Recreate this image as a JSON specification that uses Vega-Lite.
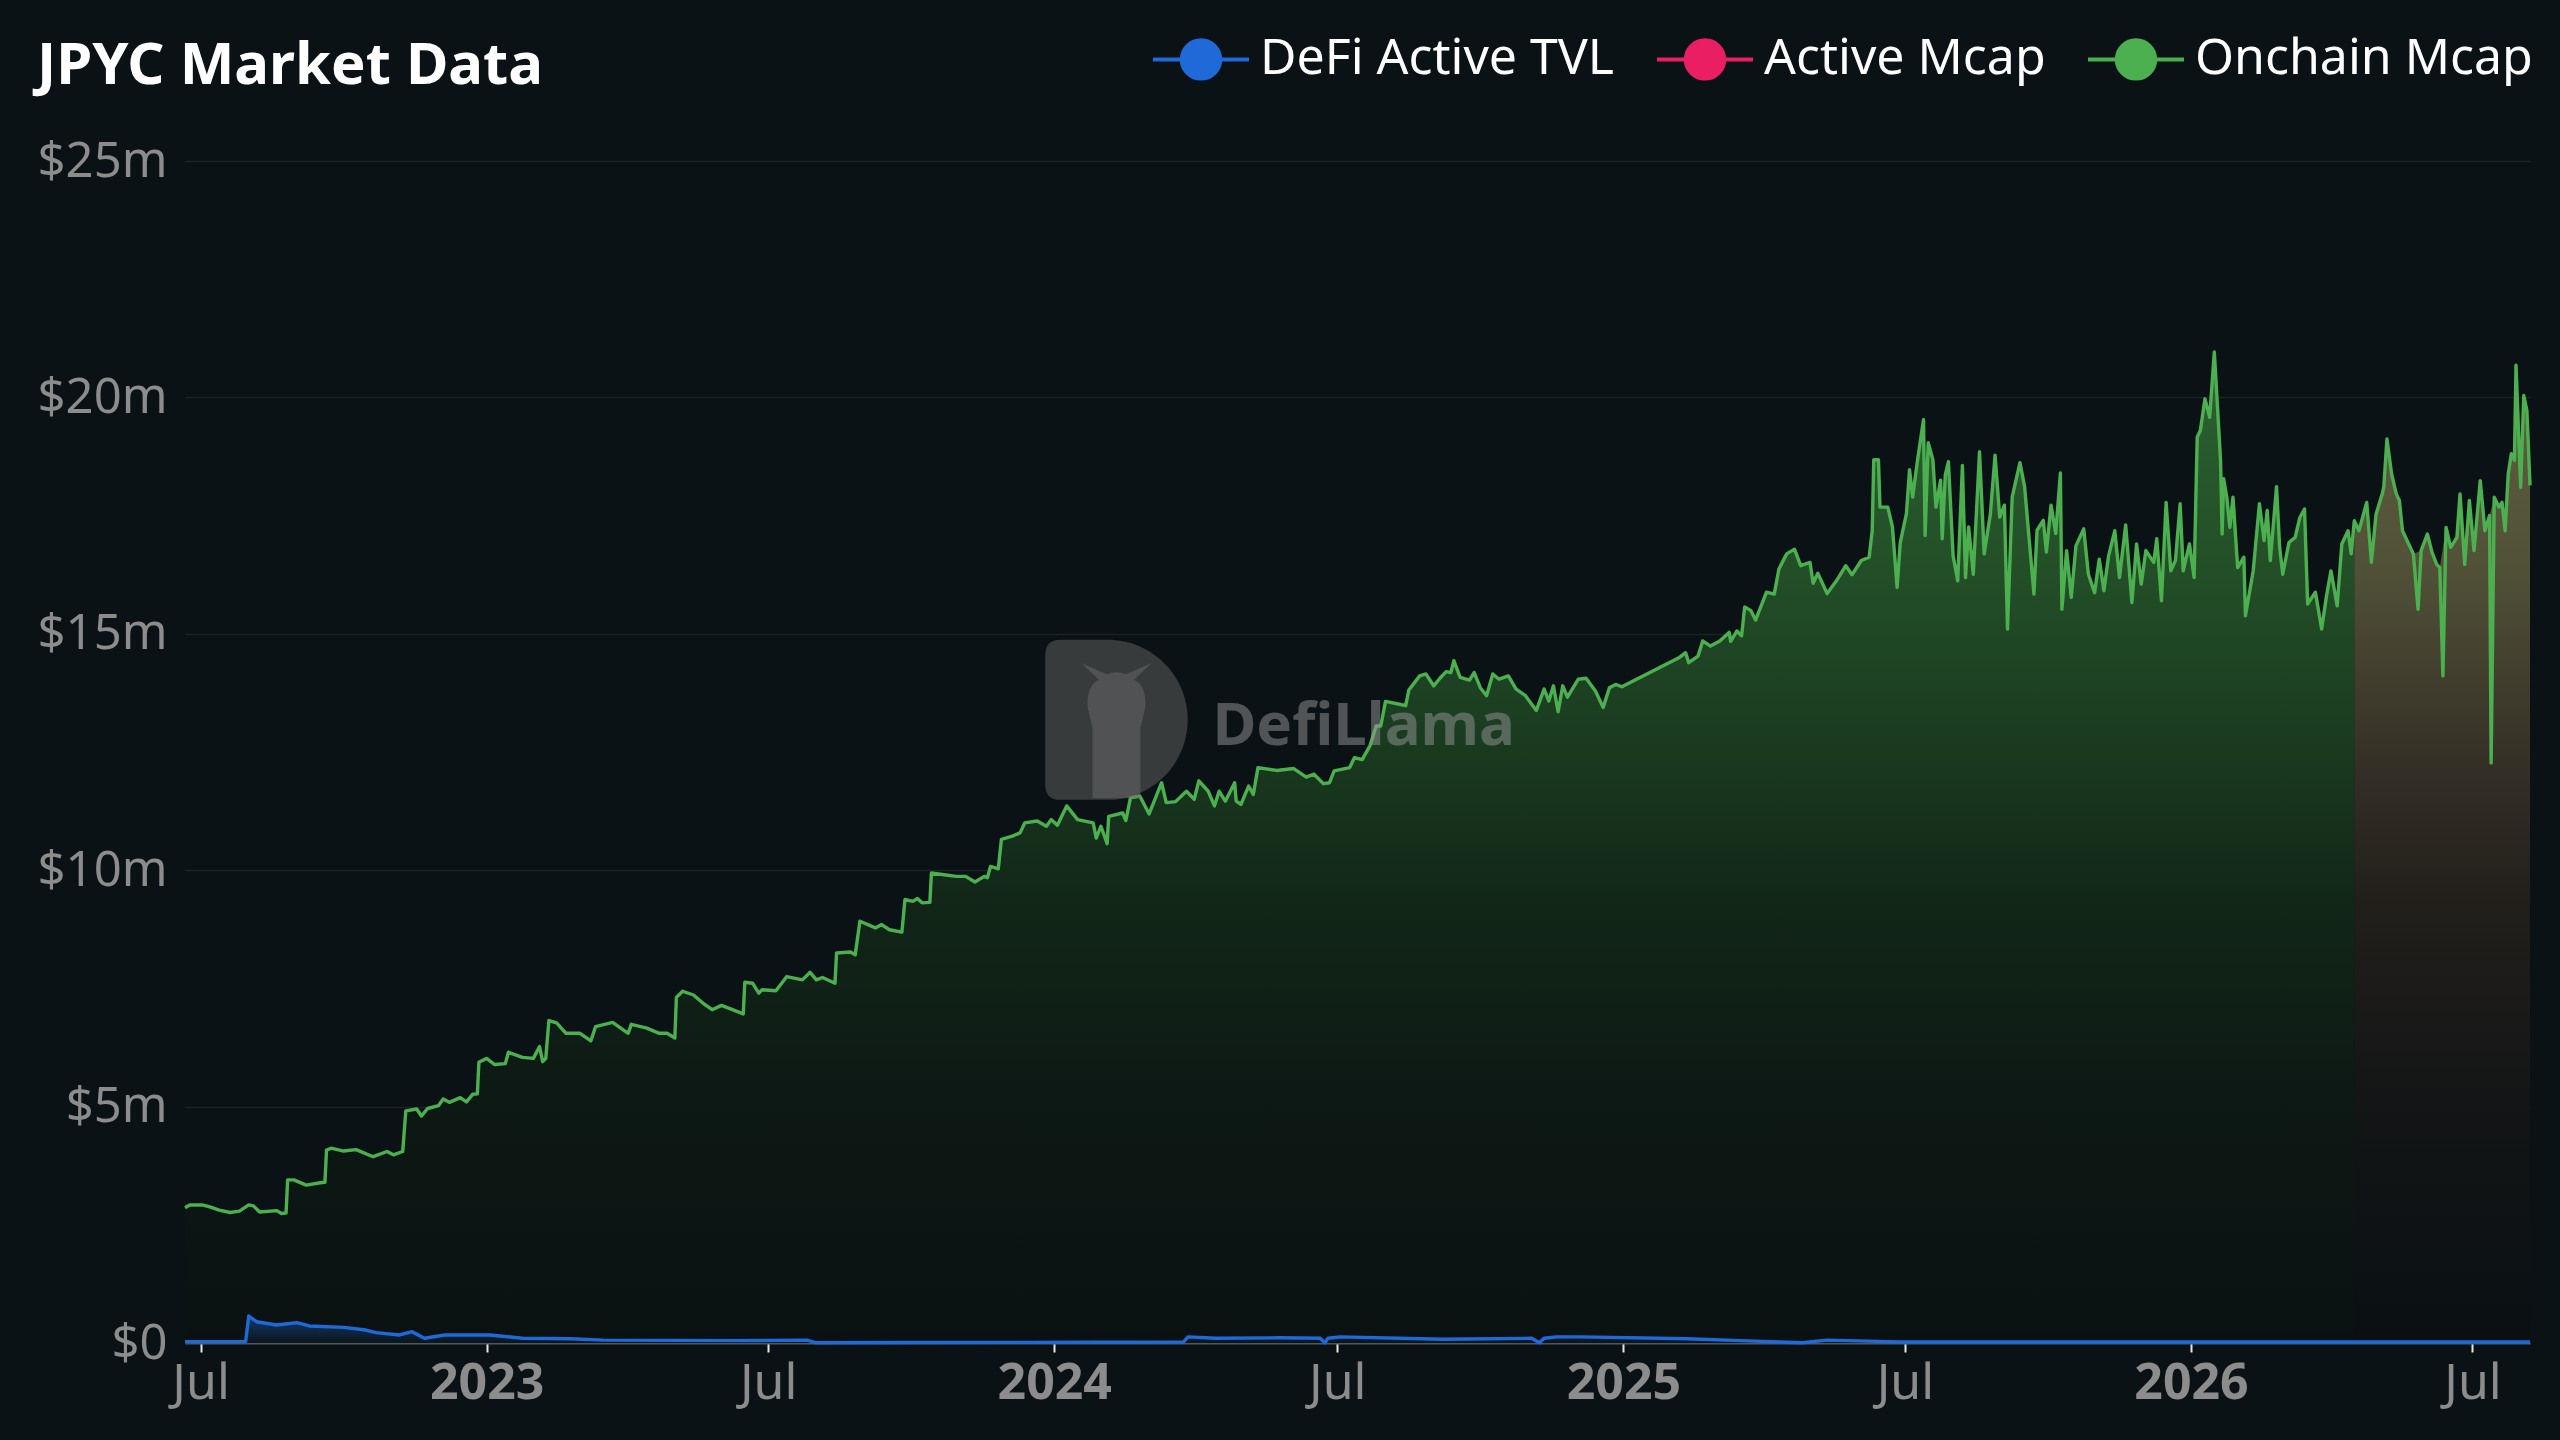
{
  "$schema": "https://vega.github.io/schema/vega-lite/v6.json",
  "width": 2345,
  "height": 1182,
  "autosize": "none",
  "padding": {"left": 185, "top": 161, "right": 30, "bottom": 97},
  "background": "#0b1215",
  "config": {"view": {"stroke": null}},
  "title": {
    "text": "JPYC Market Data",
    "anchor": "start",
    "frame": "group",
    "font": "Noto Sans",
    "fontSize": 58,
    "fontWeight": "bold",
    "color": "#ffffff",
    "baseline": "alphabetic",
    "dx": -148,
    "offset": -133
  },
  "datasets": {
    "market": [
      {"date": "2022-06-21", "series": "Onchain Mcap", "usd": 2860000},
      {"date": "2022-06-24", "series": "Onchain Mcap", "usd": 2920000},
      {"date": "2022-07-02", "series": "Onchain Mcap", "usd": 2920000},
      {"date": "2022-07-07", "series": "Onchain Mcap", "usd": 2880000},
      {"date": "2022-07-13", "series": "Onchain Mcap", "usd": 2810000},
      {"date": "2022-07-20", "series": "Onchain Mcap", "usd": 2760000},
      {"date": "2022-07-26", "series": "Onchain Mcap", "usd": 2790000},
      {"date": "2022-08-01", "series": "Onchain Mcap", "usd": 2920000},
      {"date": "2022-08-04", "series": "Onchain Mcap", "usd": 2900000},
      {"date": "2022-08-08", "series": "Onchain Mcap", "usd": 2770000},
      {"date": "2022-08-19", "series": "Onchain Mcap", "usd": 2800000},
      {"date": "2022-08-22", "series": "Onchain Mcap", "usd": 2740000},
      {"date": "2022-08-25", "series": "Onchain Mcap", "usd": 2750000},
      {"date": "2022-08-26", "series": "Onchain Mcap", "usd": 3450000},
      {"date": "2022-08-30", "series": "Onchain Mcap", "usd": 3450000},
      {"date": "2022-09-07", "series": "Onchain Mcap", "usd": 3340000},
      {"date": "2022-09-16", "series": "Onchain Mcap", "usd": 3390000},
      {"date": "2022-09-19", "series": "Onchain Mcap", "usd": 3400000},
      {"date": "2022-09-20", "series": "Onchain Mcap", "usd": 4080000},
      {"date": "2022-09-23", "series": "Onchain Mcap", "usd": 4120000},
      {"date": "2022-10-01", "series": "Onchain Mcap", "usd": 4060000},
      {"date": "2022-10-09", "series": "Onchain Mcap", "usd": 4090000},
      {"date": "2022-10-20", "series": "Onchain Mcap", "usd": 3940000},
      {"date": "2022-10-29", "series": "Onchain Mcap", "usd": 4050000},
      {"date": "2022-11-02", "series": "Onchain Mcap", "usd": 3980000},
      {"date": "2022-11-08", "series": "Onchain Mcap", "usd": 4050000},
      {"date": "2022-11-10", "series": "Onchain Mcap", "usd": 4910000},
      {"date": "2022-11-17", "series": "Onchain Mcap", "usd": 4950000},
      {"date": "2022-11-20", "series": "Onchain Mcap", "usd": 4800000},
      {"date": "2022-11-24", "series": "Onchain Mcap", "usd": 4960000},
      {"date": "2022-12-01", "series": "Onchain Mcap", "usd": 5020000},
      {"date": "2022-12-04", "series": "Onchain Mcap", "usd": 5160000},
      {"date": "2022-12-08", "series": "Onchain Mcap", "usd": 5090000},
      {"date": "2022-12-15", "series": "Onchain Mcap", "usd": 5190000},
      {"date": "2022-12-19", "series": "Onchain Mcap", "usd": 5100000},
      {"date": "2022-12-23", "series": "Onchain Mcap", "usd": 5260000},
      {"date": "2022-12-26", "series": "Onchain Mcap", "usd": 5270000},
      {"date": "2022-12-27", "series": "Onchain Mcap", "usd": 5940000},
      {"date": "2023-01-01", "series": "Onchain Mcap", "usd": 6020000},
      {"date": "2023-01-06", "series": "Onchain Mcap", "usd": 5890000},
      {"date": "2023-01-13", "series": "Onchain Mcap", "usd": 5910000},
      {"date": "2023-01-15", "series": "Onchain Mcap", "usd": 6150000},
      {"date": "2023-01-24", "series": "Onchain Mcap", "usd": 6040000},
      {"date": "2023-01-31", "series": "Onchain Mcap", "usd": 6020000},
      {"date": "2023-02-04", "series": "Onchain Mcap", "usd": 6270000},
      {"date": "2023-02-06", "series": "Onchain Mcap", "usd": 5950000},
      {"date": "2023-02-08", "series": "Onchain Mcap", "usd": 6020000},
      {"date": "2023-02-10", "series": "Onchain Mcap", "usd": 6820000},
      {"date": "2023-02-15", "series": "Onchain Mcap", "usd": 6770000},
      {"date": "2023-02-21", "series": "Onchain Mcap", "usd": 6550000},
      {"date": "2023-03-02", "series": "Onchain Mcap", "usd": 6550000},
      {"date": "2023-03-09", "series": "Onchain Mcap", "usd": 6390000},
      {"date": "2023-03-12", "series": "Onchain Mcap", "usd": 6690000},
      {"date": "2023-03-23", "series": "Onchain Mcap", "usd": 6780000},
      {"date": "2023-04-02", "series": "Onchain Mcap", "usd": 6550000},
      {"date": "2023-04-04", "series": "Onchain Mcap", "usd": 6740000},
      {"date": "2023-04-14", "series": "Onchain Mcap", "usd": 6660000},
      {"date": "2023-04-22", "series": "Onchain Mcap", "usd": 6550000},
      {"date": "2023-04-27", "series": "Onchain Mcap", "usd": 6550000},
      {"date": "2023-05-02", "series": "Onchain Mcap", "usd": 6450000},
      {"date": "2023-05-03", "series": "Onchain Mcap", "usd": 7310000},
      {"date": "2023-05-07", "series": "Onchain Mcap", "usd": 7440000},
      {"date": "2023-05-14", "series": "Onchain Mcap", "usd": 7360000},
      {"date": "2023-05-20", "series": "Onchain Mcap", "usd": 7190000},
      {"date": "2023-05-26", "series": "Onchain Mcap", "usd": 7050000},
      {"date": "2023-06-01", "series": "Onchain Mcap", "usd": 7140000},
      {"date": "2023-06-08", "series": "Onchain Mcap", "usd": 7050000},
      {"date": "2023-06-15", "series": "Onchain Mcap", "usd": 6960000},
      {"date": "2023-06-16", "series": "Onchain Mcap", "usd": 7630000},
      {"date": "2023-06-21", "series": "Onchain Mcap", "usd": 7610000},
      {"date": "2023-06-25", "series": "Onchain Mcap", "usd": 7400000},
      {"date": "2023-06-27", "series": "Onchain Mcap", "usd": 7470000},
      {"date": "2023-07-06", "series": "Onchain Mcap", "usd": 7450000},
      {"date": "2023-07-13", "series": "Onchain Mcap", "usd": 7750000},
      {"date": "2023-07-23", "series": "Onchain Mcap", "usd": 7680000},
      {"date": "2023-07-28", "series": "Onchain Mcap", "usd": 7840000},
      {"date": "2023-08-01", "series": "Onchain Mcap", "usd": 7680000},
      {"date": "2023-08-05", "series": "Onchain Mcap", "usd": 7730000},
      {"date": "2023-08-13", "series": "Onchain Mcap", "usd": 7610000},
      {"date": "2023-08-14", "series": "Onchain Mcap", "usd": 8250000},
      {"date": "2023-08-23", "series": "Onchain Mcap", "usd": 8270000},
      {"date": "2023-08-26", "series": "Onchain Mcap", "usd": 8210000},
      {"date": "2023-08-29", "series": "Onchain Mcap", "usd": 8920000},
      {"date": "2023-09-08", "series": "Onchain Mcap", "usd": 8780000},
      {"date": "2023-09-12", "series": "Onchain Mcap", "usd": 8850000},
      {"date": "2023-09-17", "series": "Onchain Mcap", "usd": 8740000},
      {"date": "2023-09-25", "series": "Onchain Mcap", "usd": 8690000},
      {"date": "2023-09-27", "series": "Onchain Mcap", "usd": 9380000},
      {"date": "2023-10-02", "series": "Onchain Mcap", "usd": 9340000},
      {"date": "2023-10-05", "series": "Onchain Mcap", "usd": 9400000},
      {"date": "2023-10-08", "series": "Onchain Mcap", "usd": 9310000},
      {"date": "2023-10-13", "series": "Onchain Mcap", "usd": 9320000},
      {"date": "2023-10-14", "series": "Onchain Mcap", "usd": 9940000},
      {"date": "2023-10-21", "series": "Onchain Mcap", "usd": 9910000},
      {"date": "2023-10-30", "series": "Onchain Mcap", "usd": 9870000},
      {"date": "2023-11-05", "series": "Onchain Mcap", "usd": 9870000},
      {"date": "2023-11-11", "series": "Onchain Mcap", "usd": 9750000},
      {"date": "2023-11-17", "series": "Onchain Mcap", "usd": 9870000},
      {"date": "2023-11-19", "series": "Onchain Mcap", "usd": 9840000},
      {"date": "2023-11-21", "series": "Onchain Mcap", "usd": 10080000},
      {"date": "2023-11-26", "series": "Onchain Mcap", "usd": 10030000},
      {"date": "2023-11-28", "series": "Onchain Mcap", "usd": 10650000},
      {"date": "2023-12-05", "series": "Onchain Mcap", "usd": 10720000},
      {"date": "2023-12-10", "series": "Onchain Mcap", "usd": 10790000},
      {"date": "2023-12-13", "series": "Onchain Mcap", "usd": 11000000},
      {"date": "2023-12-21", "series": "Onchain Mcap", "usd": 11040000},
      {"date": "2023-12-27", "series": "Onchain Mcap", "usd": 10930000},
      {"date": "2023-12-30", "series": "Onchain Mcap", "usd": 11070000},
      {"date": "2024-01-03", "series": "Onchain Mcap", "usd": 10950000},
      {"date": "2024-01-09", "series": "Onchain Mcap", "usd": 11360000},
      {"date": "2024-01-16", "series": "Onchain Mcap", "usd": 11070000},
      {"date": "2024-01-26", "series": "Onchain Mcap", "usd": 11000000},
      {"date": "2024-01-28", "series": "Onchain Mcap", "usd": 10680000},
      {"date": "2024-01-31", "series": "Onchain Mcap", "usd": 10930000},
      {"date": "2024-02-04", "series": "Onchain Mcap", "usd": 10560000},
      {"date": "2024-02-05", "series": "Onchain Mcap", "usd": 11140000},
      {"date": "2024-02-14", "series": "Onchain Mcap", "usd": 11210000},
      {"date": "2024-02-16", "series": "Onchain Mcap", "usd": 11050000},
      {"date": "2024-02-19", "series": "Onchain Mcap", "usd": 11530000},
      {"date": "2024-02-25", "series": "Onchain Mcap", "usd": 11570000},
      {"date": "2024-03-02", "series": "Onchain Mcap", "usd": 11190000},
      {"date": "2024-03-10", "series": "Onchain Mcap", "usd": 11850000},
      {"date": "2024-03-13", "series": "Onchain Mcap", "usd": 11430000},
      {"date": "2024-03-19", "series": "Onchain Mcap", "usd": 11450000},
      {"date": "2024-03-26", "series": "Onchain Mcap", "usd": 11670000},
      {"date": "2024-03-31", "series": "Onchain Mcap", "usd": 11500000},
      {"date": "2024-04-03", "series": "Onchain Mcap", "usd": 11890000},
      {"date": "2024-04-09", "series": "Onchain Mcap", "usd": 11670000},
      {"date": "2024-04-13", "series": "Onchain Mcap", "usd": 11360000},
      {"date": "2024-04-16", "series": "Onchain Mcap", "usd": 11670000},
      {"date": "2024-04-20", "series": "Onchain Mcap", "usd": 11460000},
      {"date": "2024-04-26", "series": "Onchain Mcap", "usd": 11850000},
      {"date": "2024-04-27", "series": "Onchain Mcap", "usd": 11460000},
      {"date": "2024-04-30", "series": "Onchain Mcap", "usd": 11390000},
      {"date": "2024-05-05", "series": "Onchain Mcap", "usd": 11780000},
      {"date": "2024-05-08", "series": "Onchain Mcap", "usd": 11600000},
      {"date": "2024-05-11", "series": "Onchain Mcap", "usd": 12170000},
      {"date": "2024-05-23", "series": "Onchain Mcap", "usd": 12110000},
      {"date": "2024-06-03", "series": "Onchain Mcap", "usd": 12150000},
      {"date": "2024-06-11", "series": "Onchain Mcap", "usd": 11970000},
      {"date": "2024-06-16", "series": "Onchain Mcap", "usd": 12030000},
      {"date": "2024-06-22", "series": "Onchain Mcap", "usd": 11830000},
      {"date": "2024-06-26", "series": "Onchain Mcap", "usd": 11850000},
      {"date": "2024-06-29", "series": "Onchain Mcap", "usd": 12100000},
      {"date": "2024-07-09", "series": "Onchain Mcap", "usd": 12170000},
      {"date": "2024-07-12", "series": "Onchain Mcap", "usd": 12380000},
      {"date": "2024-07-17", "series": "Onchain Mcap", "usd": 12340000},
      {"date": "2024-07-22", "series": "Onchain Mcap", "usd": 12630000},
      {"date": "2024-07-26", "series": "Onchain Mcap", "usd": 13050000},
      {"date": "2024-07-29", "series": "Onchain Mcap", "usd": 13050000},
      {"date": "2024-08-01", "series": "Onchain Mcap", "usd": 13570000},
      {"date": "2024-08-10", "series": "Onchain Mcap", "usd": 13510000},
      {"date": "2024-08-14", "series": "Onchain Mcap", "usd": 13480000},
      {"date": "2024-08-16", "series": "Onchain Mcap", "usd": 13810000},
      {"date": "2024-08-23", "series": "Onchain Mcap", "usd": 14110000},
      {"date": "2024-08-27", "series": "Onchain Mcap", "usd": 14150000},
      {"date": "2024-09-01", "series": "Onchain Mcap", "usd": 13900000},
      {"date": "2024-09-05", "series": "Onchain Mcap", "usd": 14060000},
      {"date": "2024-09-09", "series": "Onchain Mcap", "usd": 14200000},
      {"date": "2024-09-12", "series": "Onchain Mcap", "usd": 14180000},
      {"date": "2024-09-14", "series": "Onchain Mcap", "usd": 14430000},
      {"date": "2024-09-18", "series": "Onchain Mcap", "usd": 14080000},
      {"date": "2024-09-24", "series": "Onchain Mcap", "usd": 14020000},
      {"date": "2024-09-27", "series": "Onchain Mcap", "usd": 14180000},
      {"date": "2024-10-01", "series": "Onchain Mcap", "usd": 13860000},
      {"date": "2024-10-05", "series": "Onchain Mcap", "usd": 13690000},
      {"date": "2024-10-09", "series": "Onchain Mcap", "usd": 14150000},
      {"date": "2024-10-13", "series": "Onchain Mcap", "usd": 14040000},
      {"date": "2024-10-19", "series": "Onchain Mcap", "usd": 14110000},
      {"date": "2024-10-24", "series": "Onchain Mcap", "usd": 13830000},
      {"date": "2024-10-30", "series": "Onchain Mcap", "usd": 13690000},
      {"date": "2024-11-06", "series": "Onchain Mcap", "usd": 13380000},
      {"date": "2024-11-11", "series": "Onchain Mcap", "usd": 13830000},
      {"date": "2024-11-14", "series": "Onchain Mcap", "usd": 13580000},
      {"date": "2024-11-17", "series": "Onchain Mcap", "usd": 13900000},
      {"date": "2024-11-20", "series": "Onchain Mcap", "usd": 13350000},
      {"date": "2024-11-23", "series": "Onchain Mcap", "usd": 13900000},
      {"date": "2024-11-26", "series": "Onchain Mcap", "usd": 13660000},
      {"date": "2024-12-03", "series": "Onchain Mcap", "usd": 14040000},
      {"date": "2024-12-08", "series": "Onchain Mcap", "usd": 14060000},
      {"date": "2024-12-14", "series": "Onchain Mcap", "usd": 13790000},
      {"date": "2024-12-19", "series": "Onchain Mcap", "usd": 13440000},
      {"date": "2024-12-23", "series": "Onchain Mcap", "usd": 13860000},
      {"date": "2024-12-27", "series": "Onchain Mcap", "usd": 13930000},
      {"date": "2024-12-31", "series": "Onchain Mcap", "usd": 13880000},
      {"date": "2025-02-06", "series": "Onchain Mcap", "usd": 14500000},
      {"date": "2025-02-10", "series": "Onchain Mcap", "usd": 14600000},
      {"date": "2025-02-12", "series": "Onchain Mcap", "usd": 14390000},
      {"date": "2025-02-18", "series": "Onchain Mcap", "usd": 14530000},
      {"date": "2025-02-21", "series": "Onchain Mcap", "usd": 14850000},
      {"date": "2025-02-26", "series": "Onchain Mcap", "usd": 14740000},
      {"date": "2025-03-04", "series": "Onchain Mcap", "usd": 14850000},
      {"date": "2025-03-10", "series": "Onchain Mcap", "usd": 15030000},
      {"date": "2025-03-11", "series": "Onchain Mcap", "usd": 14840000},
      {"date": "2025-03-15", "series": "Onchain Mcap", "usd": 15060000},
      {"date": "2025-03-18", "series": "Onchain Mcap", "usd": 14960000},
      {"date": "2025-03-20", "series": "Onchain Mcap", "usd": 15570000},
      {"date": "2025-03-24", "series": "Onchain Mcap", "usd": 15490000},
      {"date": "2025-03-27", "series": "Onchain Mcap", "usd": 15290000},
      {"date": "2025-04-03", "series": "Onchain Mcap", "usd": 15880000},
      {"date": "2025-04-08", "series": "Onchain Mcap", "usd": 15840000},
      {"date": "2025-04-11", "series": "Onchain Mcap", "usd": 16370000},
      {"date": "2025-04-16", "series": "Onchain Mcap", "usd": 16690000},
      {"date": "2025-04-21", "series": "Onchain Mcap", "usd": 16790000},
      {"date": "2025-04-25", "series": "Onchain Mcap", "usd": 16440000},
      {"date": "2025-05-01", "series": "Onchain Mcap", "usd": 16510000},
      {"date": "2025-05-03", "series": "Onchain Mcap", "usd": 16070000},
      {"date": "2025-05-06", "series": "Onchain Mcap", "usd": 16280000},
      {"date": "2025-05-12", "series": "Onchain Mcap", "usd": 15850000},
      {"date": "2025-05-18", "series": "Onchain Mcap", "usd": 16120000},
      {"date": "2025-05-24", "series": "Onchain Mcap", "usd": 16440000},
      {"date": "2025-05-28", "series": "Onchain Mcap", "usd": 16250000},
      {"date": "2025-06-03", "series": "Onchain Mcap", "usd": 16550000},
      {"date": "2025-06-08", "series": "Onchain Mcap", "usd": 16620000},
      {"date": "2025-06-10", "series": "Onchain Mcap", "usd": 17180000},
      {"date": "2025-06-11", "series": "Onchain Mcap", "usd": 18680000},
      {"date": "2025-06-14", "series": "Onchain Mcap", "usd": 18680000},
      {"date": "2025-06-15", "series": "Onchain Mcap", "usd": 17680000},
      {"date": "2025-06-20", "series": "Onchain Mcap", "usd": 17680000},
      {"date": "2025-06-23", "series": "Onchain Mcap", "usd": 17260000},
      {"date": "2025-06-26", "series": "Onchain Mcap", "usd": 15980000},
      {"date": "2025-06-28", "series": "Onchain Mcap", "usd": 16920000},
      {"date": "2025-07-02", "series": "Onchain Mcap", "usd": 17540000},
      {"date": "2025-07-04", "series": "Onchain Mcap", "usd": 18470000},
      {"date": "2025-07-06", "series": "Onchain Mcap", "usd": 17890000},
      {"date": "2025-07-09", "series": "Onchain Mcap", "usd": 18640000},
      {"date": "2025-07-13", "series": "Onchain Mcap", "usd": 19530000},
      {"date": "2025-07-14", "series": "Onchain Mcap", "usd": 17080000},
      {"date": "2025-07-16", "series": "Onchain Mcap", "usd": 19040000},
      {"date": "2025-07-19", "series": "Onchain Mcap", "usd": 18680000},
      {"date": "2025-07-21", "series": "Onchain Mcap", "usd": 17680000},
      {"date": "2025-07-24", "series": "Onchain Mcap", "usd": 18250000},
      {"date": "2025-07-25", "series": "Onchain Mcap", "usd": 17010000},
      {"date": "2025-07-27", "series": "Onchain Mcap", "usd": 18360000},
      {"date": "2025-07-29", "series": "Onchain Mcap", "usd": 18640000},
      {"date": "2025-08-01", "series": "Onchain Mcap", "usd": 16650000},
      {"date": "2025-08-04", "series": "Onchain Mcap", "usd": 16120000},
      {"date": "2025-08-07", "series": "Onchain Mcap", "usd": 18560000},
      {"date": "2025-08-09", "series": "Onchain Mcap", "usd": 16190000},
      {"date": "2025-08-11", "series": "Onchain Mcap", "usd": 17260000},
      {"date": "2025-08-14", "series": "Onchain Mcap", "usd": 16260000},
      {"date": "2025-08-18", "series": "Onchain Mcap", "usd": 18850000},
      {"date": "2025-08-21", "series": "Onchain Mcap", "usd": 16690000},
      {"date": "2025-08-25", "series": "Onchain Mcap", "usd": 17540000},
      {"date": "2025-08-28", "series": "Onchain Mcap", "usd": 18780000},
      {"date": "2025-08-31", "series": "Onchain Mcap", "usd": 17470000},
      {"date": "2025-09-03", "series": "Onchain Mcap", "usd": 17720000},
      {"date": "2025-09-05", "series": "Onchain Mcap", "usd": 15100000},
      {"date": "2025-09-08", "series": "Onchain Mcap", "usd": 17890000},
      {"date": "2025-09-13", "series": "Onchain Mcap", "usd": 18620000},
      {"date": "2025-09-16", "series": "Onchain Mcap", "usd": 18110000},
      {"date": "2025-09-19", "series": "Onchain Mcap", "usd": 16970000},
      {"date": "2025-09-22", "series": "Onchain Mcap", "usd": 15840000},
      {"date": "2025-09-24", "series": "Onchain Mcap", "usd": 17190000},
      {"date": "2025-09-28", "series": "Onchain Mcap", "usd": 17400000},
      {"date": "2025-09-30", "series": "Onchain Mcap", "usd": 16730000},
      {"date": "2025-10-03", "series": "Onchain Mcap", "usd": 17720000},
      {"date": "2025-10-06", "series": "Onchain Mcap", "usd": 17120000},
      {"date": "2025-10-09", "series": "Onchain Mcap", "usd": 18400000},
      {"date": "2025-10-10", "series": "Onchain Mcap", "usd": 15520000},
      {"date": "2025-10-13", "series": "Onchain Mcap", "usd": 16760000},
      {"date": "2025-10-16", "series": "Onchain Mcap", "usd": 15770000},
      {"date": "2025-10-19", "series": "Onchain Mcap", "usd": 16860000},
      {"date": "2025-10-24", "series": "Onchain Mcap", "usd": 17220000},
      {"date": "2025-10-27", "series": "Onchain Mcap", "usd": 16260000},
      {"date": "2025-10-31", "series": "Onchain Mcap", "usd": 15870000},
      {"date": "2025-11-03", "series": "Onchain Mcap", "usd": 16580000},
      {"date": "2025-11-06", "series": "Onchain Mcap", "usd": 15910000},
      {"date": "2025-11-09", "series": "Onchain Mcap", "usd": 16650000},
      {"date": "2025-11-13", "series": "Onchain Mcap", "usd": 17180000},
      {"date": "2025-11-16", "series": "Onchain Mcap", "usd": 16190000},
      {"date": "2025-11-20", "series": "Onchain Mcap", "usd": 17300000},
      {"date": "2025-11-24", "series": "Onchain Mcap", "usd": 15660000},
      {"date": "2025-11-27", "series": "Onchain Mcap", "usd": 16900000},
      {"date": "2025-11-30", "series": "Onchain Mcap", "usd": 16050000},
      {"date": "2025-12-03", "series": "Onchain Mcap", "usd": 16760000},
      {"date": "2025-12-08", "series": "Onchain Mcap", "usd": 16510000},
      {"date": "2025-12-10", "series": "Onchain Mcap", "usd": 17010000},
      {"date": "2025-12-13", "series": "Onchain Mcap", "usd": 15700000},
      {"date": "2025-12-16", "series": "Onchain Mcap", "usd": 17780000},
      {"date": "2025-12-19", "series": "Onchain Mcap", "usd": 16330000},
      {"date": "2025-12-22", "series": "Onchain Mcap", "usd": 16550000},
      {"date": "2025-12-25", "series": "Onchain Mcap", "usd": 17750000},
      {"date": "2025-12-27", "series": "Onchain Mcap", "usd": 16330000},
      {"date": "2025-12-31", "series": "Onchain Mcap", "usd": 16900000},
      {"date": "2026-01-03", "series": "Onchain Mcap", "usd": 16190000},
      {"date": "2026-01-05", "series": "Onchain Mcap", "usd": 19160000},
      {"date": "2026-01-07", "series": "Onchain Mcap", "usd": 19300000},
      {"date": "2026-01-10", "series": "Onchain Mcap", "usd": 19970000},
      {"date": "2026-01-13", "series": "Onchain Mcap", "usd": 19580000},
      {"date": "2026-01-16", "series": "Onchain Mcap", "usd": 20960000},
      {"date": "2026-01-20", "series": "Onchain Mcap", "usd": 18670000},
      {"date": "2026-01-21", "series": "Onchain Mcap", "usd": 17110000},
      {"date": "2026-01-22", "series": "Onchain Mcap", "usd": 18280000},
      {"date": "2026-01-24", "series": "Onchain Mcap", "usd": 17890000},
      {"date": "2026-01-26", "series": "Onchain Mcap", "usd": 17250000},
      {"date": "2026-01-28", "series": "Onchain Mcap", "usd": 17890000},
      {"date": "2026-01-31", "series": "Onchain Mcap", "usd": 16400000},
      {"date": "2026-02-04", "series": "Onchain Mcap", "usd": 16620000},
      {"date": "2026-02-05", "series": "Onchain Mcap", "usd": 15380000},
      {"date": "2026-02-10", "series": "Onchain Mcap", "usd": 16330000},
      {"date": "2026-02-14", "series": "Onchain Mcap", "usd": 17750000},
      {"date": "2026-02-17", "series": "Onchain Mcap", "usd": 16970000},
      {"date": "2026-02-19", "series": "Onchain Mcap", "usd": 17610000},
      {"date": "2026-02-21", "series": "Onchain Mcap", "usd": 16550000},
      {"date": "2026-02-25", "series": "Onchain Mcap", "usd": 18110000},
      {"date": "2026-02-27", "series": "Onchain Mcap", "usd": 16830000},
      {"date": "2026-03-01", "series": "Onchain Mcap", "usd": 16260000},
      {"date": "2026-03-05", "series": "Onchain Mcap", "usd": 16930000},
      {"date": "2026-03-09", "series": "Onchain Mcap", "usd": 17040000},
      {"date": "2026-03-12", "series": "Onchain Mcap", "usd": 17460000},
      {"date": "2026-03-15", "series": "Onchain Mcap", "usd": 17640000},
      {"date": "2026-03-17", "series": "Onchain Mcap", "usd": 15630000},
      {"date": "2026-03-22", "series": "Onchain Mcap", "usd": 15880000},
      {"date": "2026-03-26", "series": "Onchain Mcap", "usd": 15100000},
      {"date": "2026-03-29", "series": "Onchain Mcap", "usd": 15770000},
      {"date": "2026-04-01", "series": "Onchain Mcap", "usd": 16330000},
      {"date": "2026-04-05", "series": "Onchain Mcap", "usd": 15590000},
      {"date": "2026-04-08", "series": "Onchain Mcap", "usd": 16900000},
      {"date": "2026-04-12", "series": "Onchain Mcap", "usd": 17180000},
      {"date": "2026-04-14", "series": "Onchain Mcap", "usd": 16690000},
      {"date": "2026-04-16", "series": "Onchain Mcap", "usd": 17390000},
      {"date": "2026-04-19", "series": "Onchain Mcap", "usd": 17180000},
      {"date": "2026-04-24", "series": "Onchain Mcap", "usd": 17780000},
      {"date": "2026-04-27", "series": "Onchain Mcap", "usd": 16510000},
      {"date": "2026-04-30", "series": "Onchain Mcap", "usd": 17530000},
      {"date": "2026-05-04", "series": "Onchain Mcap", "usd": 17960000},
      {"date": "2026-05-05", "series": "Onchain Mcap", "usd": 18110000},
      {"date": "2026-05-07", "series": "Onchain Mcap", "usd": 19120000},
      {"date": "2026-05-10", "series": "Onchain Mcap", "usd": 18380000},
      {"date": "2026-05-13", "series": "Onchain Mcap", "usd": 17960000},
      {"date": "2026-05-15", "series": "Onchain Mcap", "usd": 17820000},
      {"date": "2026-05-17", "series": "Onchain Mcap", "usd": 17180000},
      {"date": "2026-05-20", "series": "Onchain Mcap", "usd": 16970000},
      {"date": "2026-05-24", "series": "Onchain Mcap", "usd": 16690000},
      {"date": "2026-05-27", "series": "Onchain Mcap", "usd": 15520000},
      {"date": "2026-05-29", "series": "Onchain Mcap", "usd": 16760000},
      {"date": "2026-06-02", "series": "Onchain Mcap", "usd": 17110000},
      {"date": "2026-06-05", "series": "Onchain Mcap", "usd": 16720000},
      {"date": "2026-06-08", "series": "Onchain Mcap", "usd": 16470000},
      {"date": "2026-06-10", "series": "Onchain Mcap", "usd": 16400000},
      {"date": "2026-06-12", "series": "Onchain Mcap", "usd": 14110000},
      {"date": "2026-06-14", "series": "Onchain Mcap", "usd": 17250000},
      {"date": "2026-06-17", "series": "Onchain Mcap", "usd": 16830000},
      {"date": "2026-06-21", "series": "Onchain Mcap", "usd": 17040000},
      {"date": "2026-06-23", "series": "Onchain Mcap", "usd": 17960000},
      {"date": "2026-06-26", "series": "Onchain Mcap", "usd": 16470000},
      {"date": "2026-06-29", "series": "Onchain Mcap", "usd": 17820000},
      {"date": "2026-07-02", "series": "Onchain Mcap", "usd": 16760000},
      {"date": "2026-07-06", "series": "Onchain Mcap", "usd": 18240000},
      {"date": "2026-07-09", "series": "Onchain Mcap", "usd": 17180000},
      {"date": "2026-07-12", "series": "Onchain Mcap", "usd": 17500000},
      {"date": "2026-07-13", "series": "Onchain Mcap", "usd": 12270000},
      {"date": "2026-07-15", "series": "Onchain Mcap", "usd": 17890000},
      {"date": "2026-07-18", "series": "Onchain Mcap", "usd": 17680000},
      {"date": "2026-07-20", "series": "Onchain Mcap", "usd": 17780000},
      {"date": "2026-07-22", "series": "Onchain Mcap", "usd": 17180000},
      {"date": "2026-07-24", "series": "Onchain Mcap", "usd": 18380000},
      {"date": "2026-07-26", "series": "Onchain Mcap", "usd": 18810000},
      {"date": "2026-07-28", "series": "Onchain Mcap", "usd": 18670000},
      {"date": "2026-07-29", "series": "Onchain Mcap", "usd": 20680000},
      {"date": "2026-08-01", "series": "Onchain Mcap", "usd": 18100000},
      {"date": "2026-08-03", "series": "Onchain Mcap", "usd": 20040000},
      {"date": "2026-08-05", "series": "Onchain Mcap", "usd": 19720000},
      {"date": "2026-08-07", "series": "Onchain Mcap", "usd": 18140000},
      {"date": "2022-06-21", "series": "DeFi Active TVL", "usd": 30000},
      {"date": "2022-07-30", "series": "DeFi Active TVL", "usd": 30000},
      {"date": "2022-08-01", "series": "DeFi Active TVL", "usd": 570000},
      {"date": "2022-08-06", "series": "DeFi Active TVL", "usd": 450000},
      {"date": "2022-08-19", "series": "DeFi Active TVL", "usd": 380000},
      {"date": "2022-09-01", "series": "DeFi Active TVL", "usd": 430000},
      {"date": "2022-09-09", "series": "DeFi Active TVL", "usd": 360000},
      {"date": "2022-10-01", "series": "DeFi Active TVL", "usd": 330000},
      {"date": "2022-10-14", "series": "DeFi Active TVL", "usd": 280000},
      {"date": "2022-10-22", "series": "DeFi Active TVL", "usd": 220000},
      {"date": "2022-11-06", "series": "DeFi Active TVL", "usd": 170000},
      {"date": "2022-11-14", "series": "DeFi Active TVL", "usd": 240000},
      {"date": "2022-11-22", "series": "DeFi Active TVL", "usd": 100000},
      {"date": "2022-12-05", "series": "DeFi Active TVL", "usd": 170000},
      {"date": "2023-01-03", "series": "DeFi Active TVL", "usd": 170000},
      {"date": "2023-01-24", "series": "DeFi Active TVL", "usd": 100000},
      {"date": "2023-02-24", "series": "DeFi Active TVL", "usd": 90000},
      {"date": "2023-03-17", "series": "DeFi Active TVL", "usd": 60000},
      {"date": "2023-06-09", "series": "DeFi Active TVL", "usd": 50000},
      {"date": "2023-07-26", "series": "DeFi Active TVL", "usd": 60000},
      {"date": "2023-08-01", "series": "DeFi Active TVL", "usd": 5000},
      {"date": "2023-09-22", "series": "DeFi Active TVL", "usd": 10000},
      {"date": "2024-03-24", "series": "DeFi Active TVL", "usd": 20000},
      {"date": "2024-03-27", "series": "DeFi Active TVL", "usd": 130000},
      {"date": "2024-04-14", "series": "DeFi Active TVL", "usd": 100000},
      {"date": "2024-05-25", "series": "DeFi Active TVL", "usd": 110000},
      {"date": "2024-06-20", "series": "DeFi Active TVL", "usd": 100000},
      {"date": "2024-06-23", "series": "DeFi Active TVL", "usd": 5000},
      {"date": "2024-06-25", "series": "DeFi Active TVL", "usd": 100000},
      {"date": "2024-07-03", "series": "DeFi Active TVL", "usd": 130000},
      {"date": "2024-09-07", "series": "DeFi Active TVL", "usd": 80000},
      {"date": "2024-11-03", "series": "DeFi Active TVL", "usd": 100000},
      {"date": "2024-11-08", "series": "DeFi Active TVL", "usd": 5000},
      {"date": "2024-11-11", "series": "DeFi Active TVL", "usd": 100000},
      {"date": "2024-11-19", "series": "DeFi Active TVL", "usd": 130000},
      {"date": "2024-12-05", "series": "DeFi Active TVL", "usd": 130000},
      {"date": "2025-02-11", "series": "DeFi Active TVL", "usd": 90000},
      {"date": "2025-03-26", "series": "DeFi Active TVL", "usd": 40000},
      {"date": "2025-04-26", "series": "DeFi Active TVL", "usd": 5000},
      {"date": "2025-05-12", "series": "DeFi Active TVL", "usd": 60000},
      {"date": "2025-06-07", "series": "DeFi Active TVL", "usd": 40000},
      {"date": "2025-06-28", "series": "DeFi Active TVL", "usd": 20000},
      {"date": "2026-08-07", "series": "DeFi Active TVL", "usd": 20000}
    ],
    "watermark": [
      {"date": "2024-02-10", "usd": 13180000, "part": "badge", "label": ""},
      {"date": "2024-02-10", "usd": 13180000, "part": "llama", "label": ""},
      {"date": "2024-07-18", "usd": 12650000, "part": "text", "label": "DefiLlama"}
    ]
  },
  "encoding": {
    "x": {
      "field": "date",
      "type": "temporal",
      "scale": {
        "type": "utc",
        "domain": [
          {"year": 2022, "month": 6, "date": 21, "utc": true},
          {"year": 2026, "month": 8, "date": 7, "utc": true}
        ]
      },
      "axis": {
        "title": null,
        "grid": false,
        "values": [
          {"year": 2022, "month": 7, "date": 1, "utc": true},
          {"year": 2023, "month": 1, "date": 1, "utc": true},
          {"year": 2023, "month": 7, "date": 1, "utc": true},
          {"year": 2024, "month": 1, "date": 1, "utc": true},
          {"year": 2024, "month": 7, "date": 1, "utc": true},
          {"year": 2025, "month": 1, "date": 1, "utc": true},
          {"year": 2025, "month": 7, "date": 1, "utc": true},
          {"year": 2026, "month": 1, "date": 1, "utc": true},
          {"year": 2026, "month": 7, "date": 1, "utc": true}
        ],
        "labelExpr": "utcmonth(datum.value) === 0 ? utcFormat(datum.value, '%Y') : utcFormat(datum.value, '%b')",
        "labelFontWeight": {"condition": {"test": "utcmonth(datum.value) === 0", "value": "bold"}, "value": "normal"},
        "labelFont": "Noto Sans",
        "labelFontSize": 50,
        "labelColor": "#8c8c8c",
        "labelPadding": 6,
        "labelFlush": false,
        "labelOverlap": false,
        "domainColor": "#505659",
        "domainWidth": 2,
        "tickColor": "#e6e6e6",
        "tickSize": 9,
        "tickWidth": 2
      }
    },
    "y": {
      "field": "usd",
      "type": "quantitative",
      "scale": {"domain": [0, 25000000], "nice": false},
      "axis": {
        "title": null,
        "values": [0, 5000000, 10000000, 15000000, 20000000, 25000000],
        "labelExpr": "datum.value == 0 ? '$0' : '$' + format(datum.value / 1000000, 'd') + 'm'",
        "labelFont": "Noto Sans",
        "labelFontSize": 49,
        "labelColor": "#8c8c8c",
        "labelPadding": 18,
        "domain": false,
        "ticks": false,
        "gridColor": "#1b2326",
        "gridWidth": 1.5
      }
    }
  },
  "layer": [
    {
      "data": {"name": "market"},
      "transform": [{"filter": "datum.series === 'Onchain Mcap' && time(datum.date) <= utc(2026, 3, 16)"}],
      "mark": {
        "type": "area",
        "fill": {
          "gradient": "linear", "x1": 0, "y1": 0, "x2": 0, "y2": 1,
          "stops": [
            {"offset": 0, "color": "#2c6232"},
            {"offset": 0.2, "color": "#245128"},
            {"offset": 0.4, "color": "#1a3a20"},
            {"offset": 0.55, "color": "#122718"},
            {"offset": 0.75, "color": "#0d1914"},
            {"offset": 1, "color": "#0a1112"}
          ]
        }
      }
    },
    {
      "data": {"name": "market"},
      "transform": [{"filter": "datum.series === 'Onchain Mcap' && time(datum.date) >= utc(2026, 3, 16) && datum.usd > 15800000"}],
      "mark": {
        "type": "area",
        "fill": {
          "gradient": "linear", "x1": 0, "y1": 0, "x2": 0, "y2": 1,
          "stops": [
            {"offset": 0, "color": "#5e5e40"},
            {"offset": 0.2, "color": "#525238"},
            {"offset": 0.4, "color": "#363127"},
            {"offset": 0.55, "color": "#221f1b"},
            {"offset": 0.75, "color": "#131516"},
            {"offset": 1, "color": "#0a1012"}
          ]
        }
      }
    },
    {
      "data": {"name": "market"},
      "transform": [{"filter": "datum.series === 'DeFi Active TVL'"}],
      "mark": {
        "type": "area",
        "fill": {
          "gradient": "linear", "x1": 0, "y1": 0, "x2": 0, "y2": 1,
          "stops": [
            {"offset": 0, "color": "rgba(31,105,217,0.45)"},
            {"offset": 1, "color": "rgba(31,105,217,0.05)"}
          ]
        }
      }
    },
    {
      "data": {"name": "market"},
      "mark": {"type": "line", "strokeWidth": 3.4, "strokeJoin": "round"},
      "encoding": {
        "color": {
          "field": "series",
          "type": "nominal",
          "scale": {
            "domain": ["DeFi Active TVL", "Active Mcap", "Onchain Mcap"],
            "range": ["#1f69d9", "#e91e63", "#4caf50"]
          },
          "legend": {
            "title": null,
            "orient": "none",
            "direction": "horizontal",
            "legendX": 966,
            "legendY": -152,
            "padding": 0,
            "symbolType": "M-1,0L-0.4,0M0.4,0L1,0M0.4,0A0.4,0.4 0 1 1 -0.4,0A0.4,0.4 0 1 1 0.4,0Z",
            "symbolSize": 9216,
            "symbolStrokeWidth": 4,
            "symbolOpacity": 1,
            "labelFont": "Noto Sans",
            "labelFontSize": 50,
            "labelColor": "#ffffff",
            "labelOffset": 9,
            "labelLimit": 1000,
            "columnPadding": 34,
            "encode": {
              "symbols": {
                "update": {
                  "fill": {"scale": "color", "field": "value"},
                  "stroke": {"scale": "color", "field": "value"}
                }
              }
            }
          }
        }
      }
    },
    {
      "data": {"name": "watermark"},
      "transform": [{"filter": "datum.part === 'badge'"}],
      "mark": {
        "type": "point",
        "shape": "M-0.7,-1L-0.11,-1A1,1 0 0 1 -0.11,1L-0.7,1Q-0.89,1 -0.89,0.81L-0.89,-0.81Q-0.89,-1 -0.7,-1Z",
        "size": 25600,
        "filled": true,
        "color": "#646464",
        "opacity": 0.5,
        "strokeWidth": 0
      }
    },
    {
      "data": {"name": "watermark"},
      "transform": [{"filter": "datum.part === 'llama'"}],
      "mark": {
        "type": "point",
        "shape": "M-0.3,0.98L-0.3,0.1L-0.36,-0.15Q-0.38,-0.42 -0.22,-0.5L-0.44,-0.71L-0.12,-0.57Q0,-0.62 0.12,-0.57L0.44,-0.71L0.22,-0.5Q0.38,-0.42 0.36,-0.15L0.3,0.1L0.3,0.98Z",
        "size": 25600,
        "filled": true,
        "color": "#6e6e6e",
        "opacity": 0.45,
        "strokeWidth": 0
      }
    },
    {
      "data": {"name": "watermark"},
      "transform": [{"filter": "datum.part === 'text'"}],
      "mark": {
        "type": "text",
        "font": "Noto Sans",
        "fontSize": 60,
        "fontWeight": "bold",
        "color": "#969696",
        "opacity": 0.5,
        "align": "center",
        "baseline": "alphabetic"
      },
      "encoding": {"text": {"field": "label"}}
    }
  ]
}
